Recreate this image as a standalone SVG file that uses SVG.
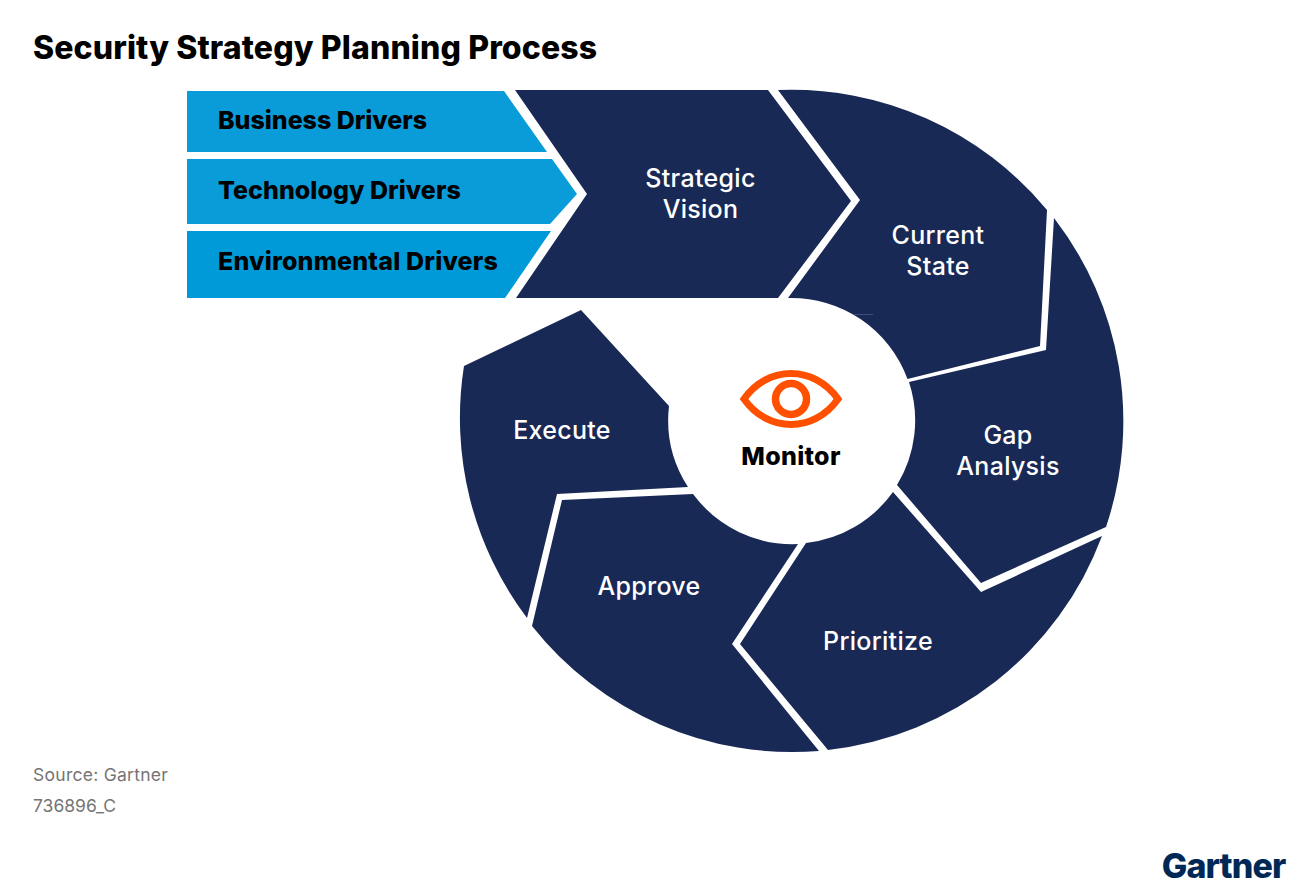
<svg xmlns="http://www.w3.org/2000/svg" width="1310" height="893" viewBox="0 0 1310 893">
<style>
text{font-family:"Inter","Liberation Sans",sans-serif}
.seg{fill:#192955}
.drv{fill:#0a9bd9}
.w{fill:#fff;font-size:25px;font-weight:500;text-anchor:middle;letter-spacing:.3px}
.d{fill:#000;font-size:25px;font-weight:800}
.g{fill:#757575;font-size:17.5px}
</style>
<rect width="1310" height="893" fill="#fff"/>
<text x="33" y="59" font-size="32" font-weight="800" letter-spacing=".13" fill="#000">Security Strategy Planning Process</text>
<g id="business-drivers"><path class="drv" d="M187 91H504L547 152H187Z"/><text class="d" x="218" y="129" letter-spacing="-.03">Business Drivers</text></g>
<g id="technology-drivers"><path class="drv" d="M187 159H552L577 194L550 224H187Z"/><text class="d" x="218" y="199" letter-spacing=".04">Technology Drivers</text></g>
<g id="environmental-drivers"><path fill="#009ad9" d="M187 231H551L505 298H187Z"/><text class="d" x="218" y="270" letter-spacing=".2">Environmental Drivers</text></g>
<g id="strategic-vision"><path class="seg" d="M515 90H768L851 201L778 298H516L587 194Z"/><text class="w" x="700.500" y="187">Strategic</text><text class="w" x="700.500" y="218">Vision</text></g>
<g id="current-state"><path class="seg" d="M778 90A332 332 0 0 1 1047 210L1040 346L907.500 379A123.500 123.500 0 0 0 788 298L860 200Z"/><path d="M853 314.500H873" stroke="#3f4d78" stroke-width="1" fill="none"/><text class="w" x="938" y="244">Current</text><text class="w" x="938" y="275">State</text></g>
<g id="gap-analysis"><path class="seg" d="M1054 218A332 332 0 0 1 1106 527L981 583L897 485A123.500 123.500 0 0 0 909 382L1046 350Z"/><text class="w" x="1008" y="444">Gap</text><text class="w" x="1008" y="475" letter-spacing="0">Analysis</text></g>
<g id="prioritize"><path class="seg" d="M1102 536A332 332 0 0 1 828 750L740 644L806 543A123.500 123.500 0 0 0 893 492L981 592Z"/><text class="w" x="878" y="650" letter-spacing="0">Prioritize</text></g>
<g id="approve"><path class="seg" d="M798 544L732 644L819 751A332 332 0 0 1 532 626L562 500L693 494A123.500 123.500 0 0 0 798 544Z"/><text class="w" x="649" y="595">Approve</text></g>
<g id="execute"><path class="seg" d="M688 487L557 494L527 618A332 332 0 0 1 464 366L581 310L669 406A123.500 123.500 0 0 0 688 487Z"/><text class="w" x="562" y="439">Execute</text></g>
<g id="monitor">
<path d="M744 399C768 365 814 365 838 399C814 433 768 433 744 399Z" fill="none" stroke="#fe5000" stroke-width="7"/>
<circle cx="791" cy="399" r="15.500" fill="none" stroke="#fe5000" stroke-width="7.500"/>
<text x="791" y="465" font-size="25" font-weight="800" letter-spacing=".3" text-anchor="middle" fill="#000">Monitor</text>
</g>
<text class="g" x="33" y="781" letter-spacing=".27">Source: Gartner</text>
<text class="g" x="33" y="812">736896_C</text>
<text x="1223.500" y="878" font-size="34" font-weight="800" letter-spacing="-.9" text-anchor="middle" fill="#002856">Gartner</text>
</svg>
